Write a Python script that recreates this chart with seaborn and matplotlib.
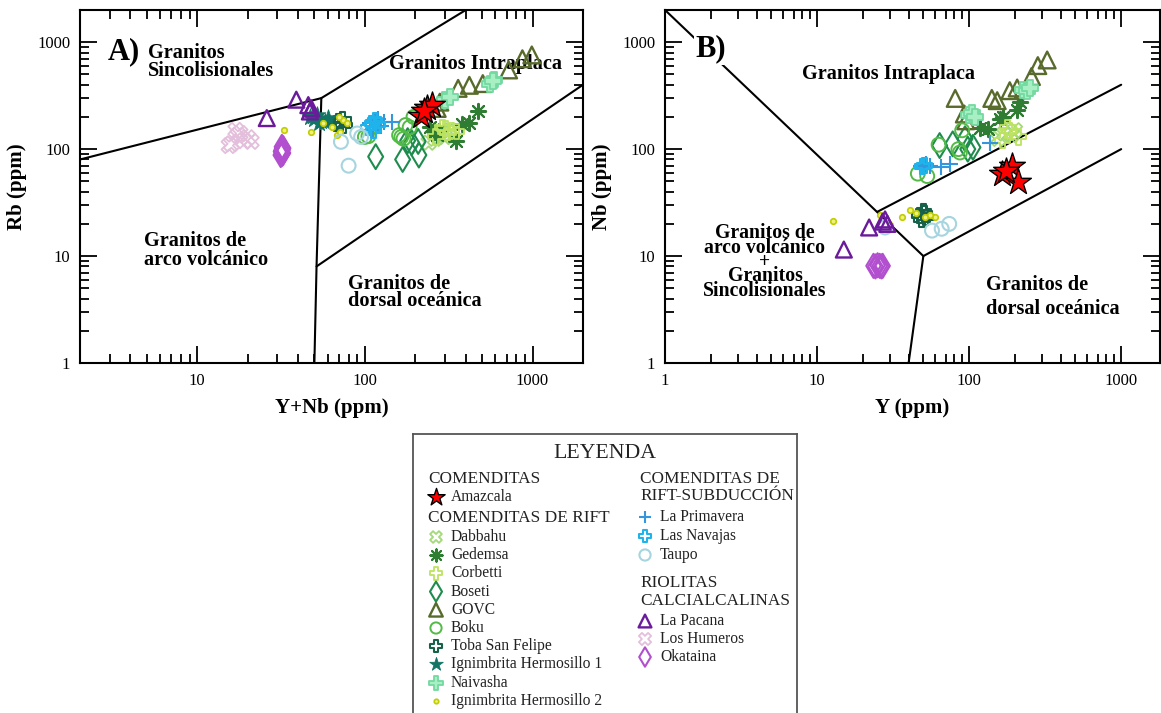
import numpy as np
import pandas as pd
import matplotlib
matplotlib.use("Agg")
import matplotlib.pyplot as plt
import seaborn as sns
from matplotlib.ticker import FixedLocator, FixedFormatter, LogLocator, NullFormatter

# ---------------- data ----------------
# Panel A: Y+Nb vs Rb ; Panel B: Y vs Nb
amazcala_ynb = [215, 235, 250, 224]
amazcala_rb = [205, 240, 260, 225]
amazcala_y = [165, 192, 210, 175]
amazcala_nb = [59, 70, 49, 62]

dabbahu_ynb = [240, 262, 292, 320, 300]
dabbahu_rb = [115, 125, 140, 150, 130]
dabbahu_y = [155, 170, 190, 200]
dabbahu_nb = [125, 140, 135, 150]

gedemsa_ynb = [245, 262, 270, 275, 350, 380, 420, 475]
gedemsa_rb = [160, 145, 135, 148, 118, 172, 175, 228]
gedemsa_y = [118, 133, 167, 207, 217, 160]
gedemsa_nb = [157, 153, 199, 231, 275, 190]

corbetti_ynb = [265, 290, 301, 313, 330, 350]
corbetti_rb = [130, 160, 157, 144, 150, 145]
corbetti_y = [165, 185, 210, 180]
corbetti_nb = [120, 150, 130, 160]

boseti_ynb = [116, 168, 190, 210, 208, 180]
boseti_rb = [85, 80, 115, 88, 118, 120]
boseti_y = [64, 78, 94, 106, 98]
boseti_nb = [108, 112, 125, 104, 100]

govc_ynb = [270, 280, 360, 420, 505, 720, 870, 990]
govc_rb = [240, 275, 370, 395, 410, 550, 700, 760]
govc_y = [81, 93, 95, 141, 153, 185, 207, 257, 283, 326]
govc_nb = [298, 213, 184, 298, 284, 352, 373, 477, 604, 682]

boku_ynb = [100, 105, 160, 165, 175, 195, 185, 170]
boku_rb = [130, 132, 135, 130, 168, 200, 160, 125]
boku_y = [46, 53, 63, 87, 90, 85]
boku_nb = [59, 56, 110, 93, 150, 100]

toba_ynb = [70, 72, 75, 74, 68]
toba_rb = [180, 170, 165, 190, 175]
toba_y = [47, 50, 52, 49, 51]
toba_nb = [24, 26, 23, 22, 25]

ih1_ynb = [47, 50, 52, 55, 58, 60, 53, 49]
ih1_rb = [200, 190, 210, 185, 180, 195, 175, 205]
ih1_y = []
ih1_nb = []

naivasha_ynb = [300, 320, 560, 590, 580]
naivasha_rb = [285, 310, 410, 445, 430]
naivasha_y = [100, 105, 110, 225, 240, 250]
naivasha_nb = [210, 220, 200, 360, 350, 375]

ih2_ynb = [33, 48, 56, 64, 68, 74, 78, 71, 70]
ih2_rb = [150, 145, 175, 160, 135, 186, 175, 144, 200]
ih2_y = [12.7, 26, 30, 36, 41, 45, 51, 60, 55]
ih2_nb = [21.5, 24, 19.7, 23, 26.7, 25.5, 23, 23, 24]

primavera_ynb = [108, 115, 120, 130, 145, 112, 125]
primavera_rb = [175, 185, 190, 180, 178, 150, 165]
primavera_y = [48, 50, 52, 55, 65, 75, 137]
primavera_nb = [70, 68, 72, 70, 68, 72, 113]

navajas_ynb = [105, 110, 115, 112, 120]
navajas_rb = [160, 175, 185, 150, 170]
navajas_y = [49, 51]
navajas_nb = [69, 70]

taupo_ynb = [72, 80, 90, 95]
taupo_rb = [117, 70, 140, 130]
taupo_y = [28, 57, 66, 74]
taupo_nb = [18.5, 17.3, 18, 20]

pacana_ynb = [26, 39, 46, 48, 47]
pacana_rb = [195, 290, 258, 240, 225]
pacana_y = [15, 22, 28, 29, 27]
pacana_nb = [11.5, 18.5, 22, 20, 21]

humeros_ynb = [16, 17, 18, 19, 20, 21, 17.5, 15.5]
humeros_rb = [112, 150, 140, 120, 128, 118, 135, 108]
humeros_y = []
humeros_nb = []

okataina_ynb = [31.5, 32, 32.5, 32, 31.8, 32.3, 32, 32.6, 31.6, 32.2, 32]
okataina_rb = [88, 90, 92, 94, 96, 98, 100, 102, 95, 91, 105]
okataina_y = [23.5, 24.2, 25, 25.8, 26.5, 27]
okataina_nb = [8.1, 8.0, 8.2, 8.1, 8.0, 8.1]

# Pearce et al. (1984) discrimination boundaries
a_line1_x = [2, 55, 400]
a_line1_y = [80, 300, 2000]
a_line2_x = [55, 51.5, 50]
a_line2_y = [300, 8, 1]
a_line3_x = [51.5, 2000]
a_line3_y = [8, 400]
b_line1_x = [1, 50, 40]
b_line1_y = [2000, 10, 1]
b_line2_x = [25, 1000]
b_line2_y = [26, 400]
b_line3_x = [50, 1000]
b_line3_y = [10, 100]

y_ticks = [1, 10, 100, 1000]
y_ticklabels = ["1", "10", "100", "1000"]
a_x_ticks = [10, 100, 1000]
a_x_ticklabels = ["10", "100", "1000"]
b_x_ticks = [1, 10, 100, 1000]
b_x_ticklabels = ["1", "10", "100", "1000"]

# ---------------- styles ----------------
groups = [
    ("Dabbahu", dabbahu_ynb, dabbahu_rb, dabbahu_y, dabbahu_nb,
     dict(marker="X", s=110, fc="none", ec="#a3d977", lw=1.3)),
    ("Gedemsa", gedemsa_ynb, gedemsa_rb, gedemsa_y, gedemsa_nb,
     dict(marker=(8, 2, 0), s=120, fc="#2e7d32", ec=None, lw=1.5)),
    ("Corbetti", corbetti_ynb, corbetti_rb, corbetti_y, corbetti_nb,
     dict(marker="P", s=120, fc="none", ec="#bde35f", lw=1.3)),
    ("Boseti", boseti_ynb, boseti_rb, boseti_y, boseti_nb,
     dict(marker="d", s=160, fc="none", ec="#1e8c4e", lw=1.5)),
    ("GOVC", govc_ynb, govc_rb, govc_y, govc_nb,
     dict(marker="^", s=145, fc="none", ec="#586b2c", lw=1.7)),
    ("Boku", boku_ynb, boku_rb, boku_y, boku_nb,
     dict(marker="o", s=100, fc="none", ec="#52bb45", lw=1.4)),
    ("Toba San Felipe", toba_ynb, toba_rb, toba_y, toba_nb,
     dict(marker="P", s=120, fc="none", ec="#17604a", lw=1.5)),
    ("Ignimbrita Hermosillo 1", ih1_ynb, ih1_rb, ih1_y, ih1_nb,
     dict(marker="*", s=160, fc="#117566", ec="#117566", lw=0.6)),
    ("Naivasha", naivasha_ynb, naivasha_rb, naivasha_y, naivasha_nb,
     dict(marker="P", s=140, fc="#a8efc4", ec="#72d9a0", lw=1.3)),
    ("Ignimbrita Hermosillo 2", ih2_ynb, ih2_rb, ih2_y, ih2_nb,
     dict(marker="o", s=16, fc="#eef27a", ec="#c2cc00", lw=1.2)),
    ("La Primavera", primavera_ynb, primavera_rb, primavera_y, primavera_nb,
     dict(marker="+", s=130, fc="#3496dc", ec=None, lw=1.5)),
    ("Las Navajas", navajas_ynb, navajas_rb, navajas_y, navajas_nb,
     dict(marker="P", s=110, fc="none", ec="#1eb3ea", lw=1.5)),
    ("Taupo", taupo_ynb, taupo_rb, taupo_y, taupo_nb,
     dict(marker="o", s=100, fc="none", ec="#a6d5df", lw=1.5)),
    ("La Pacana", pacana_ynb, pacana_rb, pacana_y, pacana_nb,
     dict(marker="^", s=130, fc="none", ec="#6a1a9a", lw=1.7)),
    ("Los Humeros", humeros_ynb, humeros_rb, humeros_y, humeros_nb,
     dict(marker="X", s=120, fc="none", ec="#e4bfdc", lw=1.3)),
    ("Okataina", okataina_ynb, okataina_rb, okataina_y, okataina_nb,
     dict(marker="d", s=150, fc="none", ec="#b24fcf", lw=1.5)),
    ("Amazcala", amazcala_ynb, amazcala_rb, amazcala_y, amazcala_nb,
     dict(marker="*", s=380, fc="#ff0000", ec="black", lw=1.0, z=6)),
]
style_of = {g[0]: g[5] for g in groups}

sns.set_style("ticks")
plt.rcParams["font.family"] = ["Liberation Serif", "DejaVu Serif"]
plt.rcParams["axes.linewidth"] = 1.5
for k in ["text.color", "axes.labelcolor", "xtick.color", "ytick.color", "axes.edgecolor"]:
    plt.rcParams[k] = "black"

W, H = 1161, 713
fig = plt.figure(figsize=(W / 100, H / 100), dpi=100)


def px_axes(left, top, right, bottom):
    return fig.add_axes([left / W, (H - bottom) / H, (right - left) / W, (bottom - top) / H])


def draw(ax, x, y, st, scale=1.0, z=None):
    if len(x) == 0:
        return
    kw = dict(x=x, y=y, ax=ax, marker=st["marker"], s=st["s"] * scale,
              linewidth=st["lw"], legend=False, zorder=z if z is not None else st.get("z", 4))
    if st["ec"] is None:
        kw["color"] = st["fc"]
        kw["edgecolor"] = None
    else:
        kw["color"] = st["ec"]
        kw["facecolor"] = st["fc"]
        kw["edgecolor"] = st["ec"]
    sns.scatterplot(**kw)


axA = px_axes(80, 10, 583, 363)
axB = px_axes(665, 10, 1160, 363)

for name, ynb, rb, yy, nb, st in groups:
    draw(axA, ynb, rb, st)
    draw(axB, yy, nb, st)

for ax, lines in [(axA, [(a_line1_x, a_line1_y), (a_line2_x, a_line2_y), (a_line3_x, a_line3_y)]),
                  (axB, [(b_line1_x, b_line1_y), (b_line2_x, b_line2_y), (b_line3_x, b_line3_y)])]:
    for lx, ly in lines:
        sns.lineplot(x=lx, y=ly, ax=ax, color="black", linewidth=1.5, sort=False,
                     estimator=None, zorder=2, legend=False)

for ax, xlim, xt, xtl in [(axA, (2, 2000), a_x_ticks, a_x_ticklabels),
                          (axB, (1, 1800), b_x_ticks, b_x_ticklabels)]:
    ax.set_xscale("log")
    ax.set_yscale("log")
    ax.set_xlim(*xlim)
    ax.set_ylim(1, 2000)
    ax.xaxis.set_major_locator(FixedLocator(xt))
    ax.xaxis.set_major_formatter(FixedFormatter(xtl))
    ax.yaxis.set_major_locator(FixedLocator(y_ticks))
    ax.yaxis.set_major_formatter(FixedFormatter(y_ticklabels))
    for axis in (ax.xaxis, ax.yaxis):
        axis.set_minor_locator(LogLocator(base=10, subs=np.arange(2, 10)))
        axis.set_minor_formatter(NullFormatter())
    ax.tick_params(which="both", direction="in", top=True, right=True, width=1.3, colors="black")
    ax.tick_params(which="major", length=12.5, labelsize=12, pad=7)
    ax.tick_params(which="minor", length=6.5)
    for sp in ax.spines.values():
        sp.set_linewidth(1.5)
        sp.set_color("black")

axA.set_xlabel("Y+Nb (ppm)", fontsize=15, fontweight="bold")
axA.set_ylabel("Rb (ppm)", fontsize=15, fontweight="bold")
axB.set_xlabel("Y (ppm)", fontsize=15, fontweight="bold")
axB.set_ylabel("Nb (ppm)", fontsize=15, fontweight="bold")
axA.xaxis.set_label_coords(0.5, -0.10)
axB.xaxis.set_label_coords(0.5, -0.10)
axA.yaxis.set_label_coords(-0.105, 0.5)
axB.yaxis.set_label_coords(-0.107, 0.5)

tkw = dict(fontsize=14.6, fontweight="bold", zorder=2.5, va="center_baseline", color="black")

def lab(ax, x, y, s, ha="left", **extra):
    d = dict(tkw)
    d.update(extra)
    ax.text(x, y, s, transform=ax.transAxes, ha=ha, **d)

# Panel A labels
lab(axA, 0.056, 0.893, "A)", fontsize=22)
lab(axA, 0.135, 0.886, "Granitos")
lab(axA, 0.135, 0.834, "Sincolisionales")
lab(axA, 0.614, 0.853, "Granitos Intraplaca")
lab(axA, 0.127, 0.352, "Granitos de")
lab(axA, 0.127, 0.300, "arco volcánico")
lab(axA, 0.533, 0.232, "Granitos de")
lab(axA, 0.533, 0.184, "dorsal oceánica")

# Panel B labels
lab(axB, 0.0625, 0.900, "B)", fontsize=22, zorder=7,
    bbox=dict(facecolor="white", edgecolor="none", pad=1.5))
lab(axB, 0.276, 0.826, "Granitos Intraplaca")
lab(axB, 0.202, 0.376, "Granitos de", ha="center", fontsize=14.2)
lab(axB, 0.202, 0.332, "arco volcánico", ha="center", fontsize=14.2)
lab(axB, 0.202, 0.294, "+", ha="center", fontsize=14.2)
lab(axB, 0.202, 0.254, "Granitos", ha="center", fontsize=14.2)
lab(axB, 0.202, 0.212, "Sincolisionales", ha="center", fontsize=14.2)
lab(axB, 0.6485, 0.227, "Granitos de")
lab(axB, 0.6485, 0.161, "dorsal oceánica")

# ---------------- legend box ----------------
lax = px_axes(413, 434, 797, 730)
lax.set_xlim(0, 384)
lax.set_ylim(296, 0)
lax.set_xticks([])
lax.set_yticks([])
for sp in lax.spines.values():
    sp.set_color("#555555")
    sp.set_linewidth(1.3)

lax.text(192, 19, "LEYENDA", ha="center", va="center", fontsize=15.7, color="#222222")

head_kw = dict(ha="left", va="center", fontsize=12.4, color="#222222")
ent_kw = dict(ha="left", va="center", fontsize=11.2, color="#222222")

left_rows = [("h", "COMENDITAS", 45), ("e", "Amazcala", 63), ("h", "COMENDITAS DE RIFT", 84)]
rift_names = ["Dabbahu", "Gedemsa", "Corbetti", "Boseti", "GOVC", "Boku", "Toba San Felipe",
              "Ignimbrita Hermosillo 1", "Naivasha", "Ignimbrita Hermosillo 2"]
for i, n in enumerate(rift_names):
    left_rows.append(("e", n, 103 + 18.2 * i))

right_rows = [("h", "COMENDITAS DE", 45), ("h", "RIFT-SUBDUCCIÓN", 62),
              ("e", "La Primavera", 83), ("e", "Las Navajas", 102), ("e", "Taupo", 121),
              ("h", "RIOLITAS", 149), ("h", "CALCIALCALINAS", 167),
              ("e", "La Pacana", 187), ("e", "Los Humeros", 205), ("e", "Okataina", 223)]

for rows, hx, mx, tx in [(left_rows, 15, 23, 38), (right_rows, 227, 232, 247)]:
    for kind, text, yy in rows:
        if kind == "h":
            lax.text(hx, yy, text, **head_kw)
        else:
            st = style_of[text]
            draw(lax, [mx], [yy], st, scale=0.65 if text != "Amazcala" else 0.45, z=5)
            lax.text(tx, yy, text, **ent_kw)
lax.set_xlim(0, 384)
lax.set_ylim(296, 0)
lax.set_xlabel("")
lax.set_ylabel("")

fig.savefig("out.png", dpi=100)
